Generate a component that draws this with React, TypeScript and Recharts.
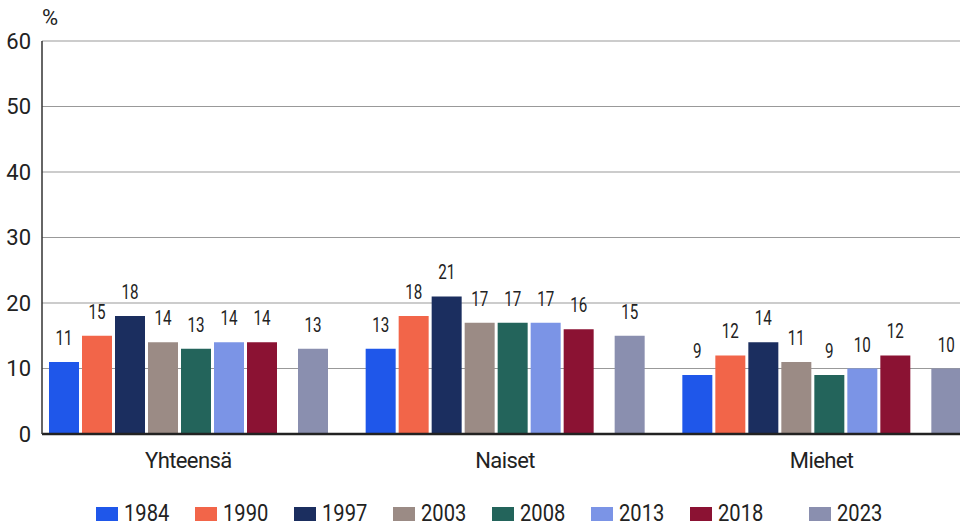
import React from 'react';
import { BarChart, Bar, XAxis, YAxis, CartesianGrid, LabelList } from 'recharts';

// share (%) by group and survey year
const categories = ['Yhteensä', 'Naiset', 'Miehet'];
const years = ['1984', '1990', '1997', '2003', '2008', '2013', '2018', '2023'];
const colors = ['#1f57ea', '#f26549', '#1b2e5f', '#9b8b85', '#23645b', '#7b94e6', '#8b1233', '#8a8faf'];

const v1984 = [11, 13, 9];
const v1990 = [15, 18, 12];
const v1997 = [18, 21, 14];
const v2003 = [14, 17, 11];
const v2008 = [13, 17, 9];
const v2013 = [14, 17, 10];
const v2018 = [14, 16, 12];
const v2023 = [13, 15, 10];

const yTicks = [0, 10, 20, 30, 40, 50, 60];

const valuesByYear = [v1984, v1990, v1997, v2003, v2008, v2013, v2018, v2023];

const data = categories.map((name, i) => {
  const row: Record<string, string | number> = { name };
  years.forEach((y, k) => {
    row['y' + y] = valuesByYear[k][i];
  });
  return row;
});

const font = 'Roboto, "DejaVu Sans", sans-serif';
// the original face is condensed; squeeze Roboto horizontally
const squeeze = 0.76;

// the source leaves an empty slot before the latest year
const series = years.flatMap((y, k) =>
  y === '2023'
    ? [{ key: 'blank', year: '', color: 'none' }, { key: 'y' + y, year: y, color: colors[k] }]
    : [{ key: 'y' + y, year: y, color: colors[k] }]
);

const BarValue = (props: any) => {
  const { x, y, width, value } = props;
  if (value === undefined || value === null) return null;
  const cx = Number(x) + Number(width) / 2;
  const by = Number(y) - 17;
  return (
    <text
      transform={`translate(${cx},${by}) scale(${squeeze},1)`}
      textAnchor="middle"
      fontSize={20}
      fontFamily={font}
      fill="#222"
    >
      {value}
    </text>
  );
};

const Legend = () => {
  let x = 96;
  return (
    <svg width={960} height={527} style={{ position: 'absolute', left: 0, top: 0, pointerEvents: 'none' }}>
      {series.map((s) => {
        const cx = x;
        if (s.key === 'blank') {
          x += 20;
          return null;
        }
        x += 99;
        return (
          <g key={s.key}>
            <rect x={cx} y={507} width={22} height={14} fill={s.color} />
            <text
              transform={`translate(${cx + 28},521) scale(0.84,1)`}
              fontSize={24}
              fontFamily={font}
              fill="#222"
            >
              {s.year}
            </text>
          </g>
        );
      })}
      <text x={42} y={25} fontSize={22} fontFamily={font} fill="#222">%</text>
    </svg>
  );
};

export default function App() {
  return (
    <div style={{ position: 'absolute', left: 0, top: 0, width: 960, height: 527, overflow: 'hidden', background: '#fff' }}>
      <BarChart
        width={1000}
        height={527}
        data={data}
        margin={{ top: 41, right: 0, bottom: 63, left: 0 }}
        barGap={3}
      >
        <CartesianGrid vertical={false} stroke="#999" strokeWidth={1.2} />
        <XAxis
          dataKey="name"
          height={30}
          padding={{ left: -12, right: 20 }}
          tickLine={false}
          tickSize={0}
          tickMargin={18}
          axisLine={{ stroke: '#222', strokeWidth: 2.5 }}
          tick={{ fill: '#222', fontSize: 22, fontFamily: font, letterSpacing: -0.6 }}
        />
        <YAxis
          width={42}
          domain={[0, 60]}
          ticks={yTicks}
          tickLine={false}
          tickSize={0}
          tickMargin={11}
          axisLine={{ stroke: '#333', strokeWidth: 1.5 }}
          tick={{ fill: '#222', fontSize: 22, fontFamily: font }}
        />
        {series.map((s) =>
          s.key === 'blank' ? (
            <Bar key={s.key} dataKey={s.key} barSize={15} fill="none" isAnimationActive={false} />
          ) : (
            <Bar key={s.key} dataKey={s.key} barSize={30} fill={s.color} isAnimationActive={false}>
              <LabelList dataKey={s.key} content={<BarValue />} />
            </Bar>
          )
        )}
      </BarChart>
      <Legend />
    </div>
  );
}
